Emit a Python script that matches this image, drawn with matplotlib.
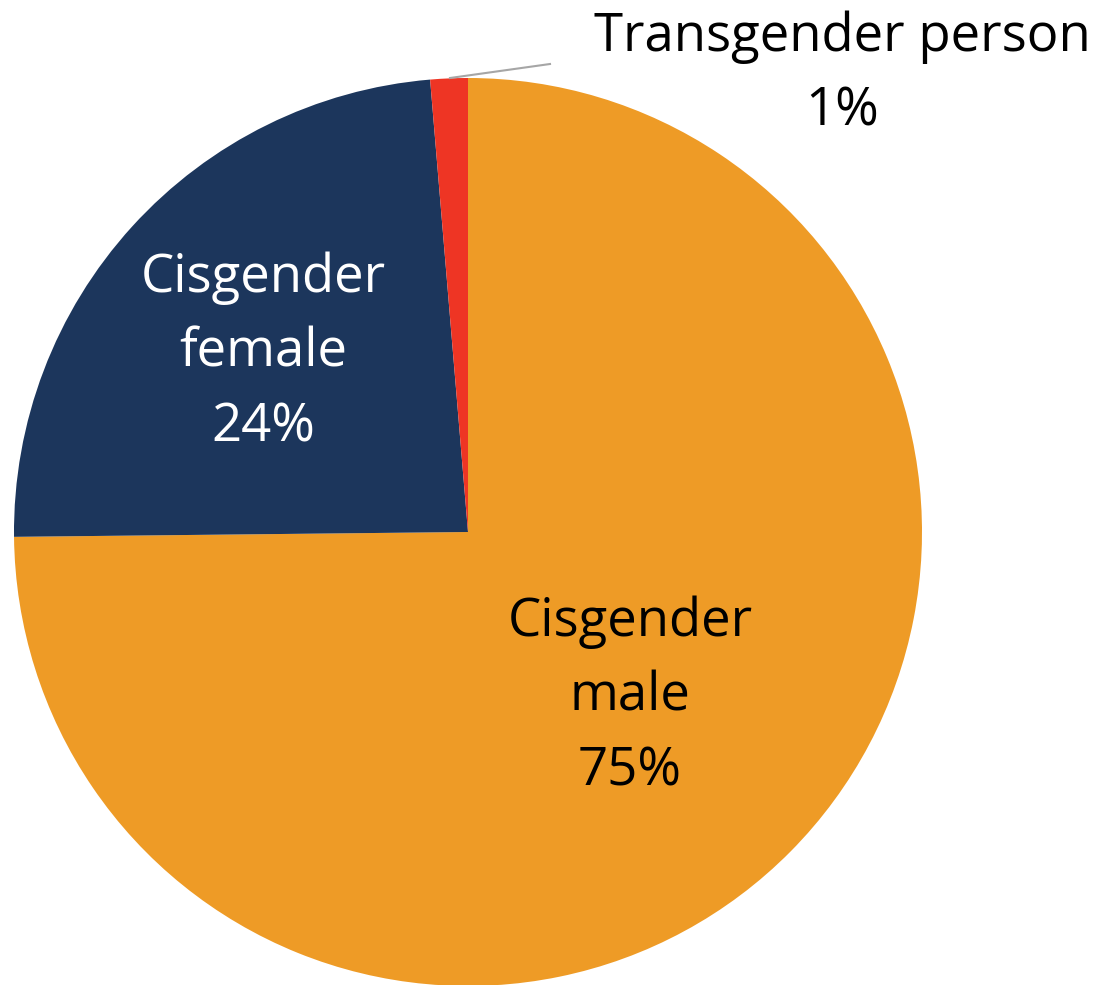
import matplotlib.pyplot as plt

plt.rcParams['font.family'] = ['Open Sans', 'DejaVu Sans']

labels = ['Cisgender\nmale', 'Cisgender\nfemale', 'Transgender person']
shares = [74.83, 23.84, 1.33]
pct_text = ['75%', '24%', '1%']
colors = ['#EE9B26', '#1C365C', '#EE3524']
text_colors = ['black', 'white', 'black']

W, H = 1098, 985
fig = plt.figure(figsize=(W / 100, H / 100), dpi=100)
ax = fig.add_axes([0, 0, 1, 1])

cx, cy, r = 468, H - 532, 454
ax.pie(shares, colors=colors, startangle=90, counterclock=False,
       center=(cx, cy), radius=r, frame=True,
       wedgeprops=dict(linewidth=0))
ax.set_xlim(0, W)
ax.set_ylim(0, H)
ax.set_aspect('equal')
ax.axis('off')

# label anchor: centre x and y of first line (pixels from top)
label_pos = [(630, 622), (263, 278), (842, 37)]
step = 75
for lab, pct, (lx, ly), tc in zip(labels, pct_text, label_pos, text_colors):
    lines = lab.split('\n') + [pct]
    for i, line in enumerate(lines):
        ax.text(lx, H - (ly + i * step), line, ha='center', va='center',
                fontsize=38, color=tc)

# leader line for the small slice
ax.plot([450, 550], [H - 78, H - 64], color='#A6A6A6', linewidth=1.5)

fig.savefig('out.png', dpi=100)
